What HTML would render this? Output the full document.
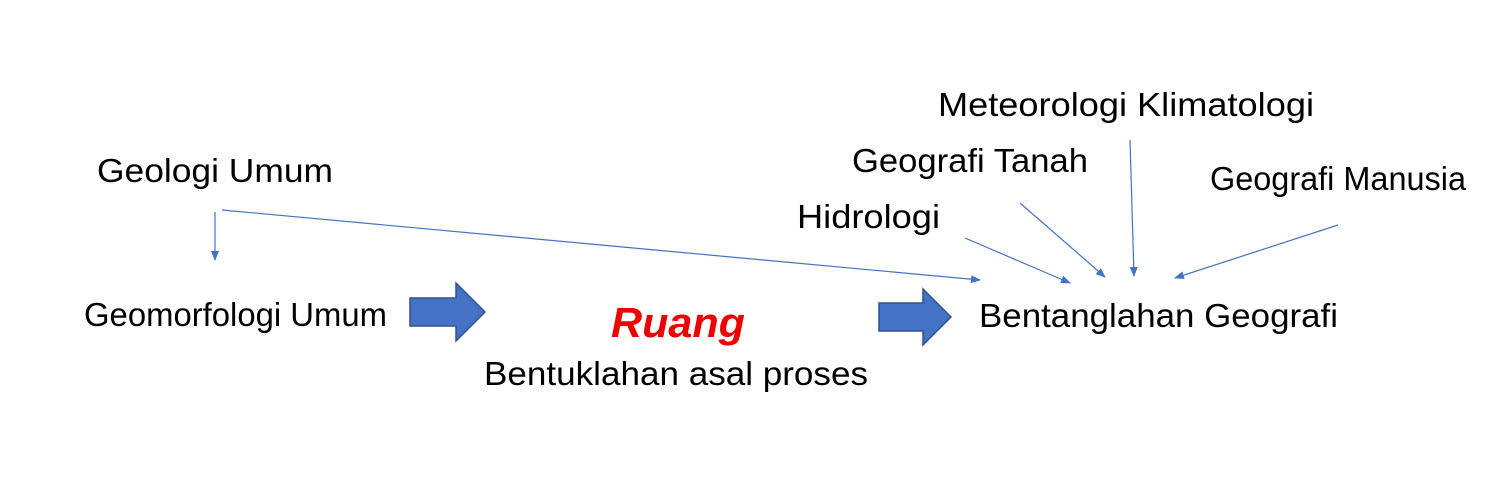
<!DOCTYPE html>
<html><head><meta charset="utf-8"><style>
html,body{margin:0;padding:0;background:#fff;}
svg{display:block;}
text{font-family:"Liberation Sans",sans-serif;fill:#000;}
</style></head><body>
<svg width="1498" height="490" viewBox="0 0 1498 490" xmlns="http://www.w3.org/2000/svg">
<defs>
<marker id="a" markerWidth="10" markerHeight="8" refX="9" refY="4" orient="auto" markerUnits="userSpaceOnUse">
<path d="M0,0 L10,4 L0,8 z" fill="#4472C4"/>
</marker>
</defs>
<g font-size="33">
<text x="938" y="116" textLength="376" lengthAdjust="spacingAndGlyphs">Meteorologi Klimatologi</text>
<text x="852" y="172" textLength="236" lengthAdjust="spacingAndGlyphs">Geografi Tanah</text>
<text x="1210" y="190" textLength="256" lengthAdjust="spacingAndGlyphs">Geografi Manusia</text>
<text x="797" y="228" textLength="143" lengthAdjust="spacingAndGlyphs">Hidrologi</text>
<text x="97" y="182" textLength="236" lengthAdjust="spacingAndGlyphs">Geologi Umum</text>
<text x="84" y="326" textLength="303" lengthAdjust="spacingAndGlyphs">Geomorfologi Umum</text>
<text x="979" y="327" textLength="359" lengthAdjust="spacingAndGlyphs">Bentanglahan Geografi</text>
<text x="484" y="385" textLength="384" lengthAdjust="spacingAndGlyphs">Bentuklahan asal proses</text>
</g>
<text x="611" y="337" font-size="42" font-weight="bold" font-style="italic" style="fill:#EE0000" textLength="134" lengthAdjust="spacingAndGlyphs">Ruang</text>
<g stroke="#4472C4" stroke-width="1.2" fill="none" marker-end="url(#a)">
<line x1="215" y1="212" x2="215" y2="260"/>
<line x1="222" y1="210" x2="980" y2="280"/>
<line x1="965" y1="238" x2="1070" y2="283"/>
<line x1="1020" y1="203" x2="1105" y2="277"/>
<line x1="1130" y1="140" x2="1134" y2="276"/>
<line x1="1338" y1="225" x2="1175" y2="278"/>
</g>
<path d="M410,298 L456,298 L456,283 L485,312 L456,341 L456,326 L410,326 Z" fill="#4472C4" stroke="#2F528F" stroke-width="1.5"/>
<path d="M879,303 L923,303 L923,289 L951,317 L923,345 L923,331 L879,331 Z" fill="#4472C4" stroke="#2F528F" stroke-width="1.5"/>
</svg>
</body></html>
